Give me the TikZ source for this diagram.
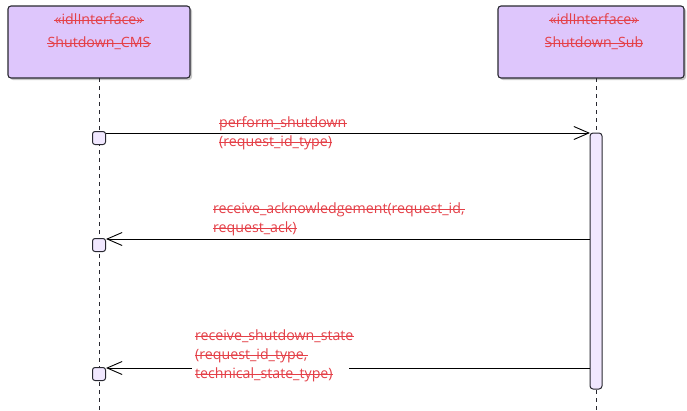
\documentclass[tikz,border=0pt]{standalone}
\usepackage{fontspec}
\setmainfont{Open Sans}
\usetikzlibrary{arrows.meta}
\definecolor{boxfill}{RGB}{222,198,252}
\definecolor{actfill}{RGB}{241,232,255}
\definecolor{redtxt}{RGB}{228,64,72}
\definecolor{edge}{RGB}{40,40,48}
\tikzset{
  classbox/.style={draw=edge, line width=1.1pt, fill=boxfill, rounded corners=3pt, minimum width=182pt, minimum height=72pt, inner sep=0pt},
  shadowbox/.style={fill=black!22, rounded corners=3pt, minimum width=182pt, minimum height=72pt, inner sep=0pt},
  lbl/.style={text=redtxt, font=\fontsize{14.2}{19}\selectfont, inner sep=0pt, text height=11.5pt, text depth=3.5pt,
    append after command={(\tikzlastnode.west) edge[draw=redtxt, line width=0.8pt] (\tikzlastnode.east)}},
  lifeline/.style={draw=edge, line width=0.9pt, dash pattern=on 4pt off 4pt},
  actsq/.style={draw=edge, line width=1pt, fill=actfill, rounded corners=2.5pt, minimum width=13pt, minimum height=13pt, inner sep=0pt},
  actbar/.style={draw=edge, line width=1pt, fill=actfill, rounded corners=3pt, minimum width=12pt, minimum height=256pt, inner sep=0pt},
  msg/.style={draw=black, line width=0.9pt, -{Straight Barb[length=15pt,width=13pt,line width=0.9pt]}},
}
\begin{document}
\begin{tikzpicture}[x=1pt,y=-1pt]
\useasboundingbox (0,0) rectangle (687,410);
% boxes
\node[shadowbox] at (101,44) {};
\node[shadowbox, minimum width=186pt] at (593,44) {};
\node[classbox] (cms) at (99,42) {};
\node[classbox, minimum width=186pt] (sub) at (591,42) {};
\node[lbl, anchor=center] (cmsst) at (99,20) {«idlInterface»};
\node[lbl, anchor=center] (cmsname) at (99,43) {Shutdown\_CMS};
\node[lbl, anchor=center] (subst) at (594,20) {«idlInterface»};
\node[lbl, anchor=center] (subname) at (594,43) {Shutdown\_Sub};
% lifelines
\coordinate (cmsend) at (99,410);
\coordinate (subtop) at (596,78);
\coordinate (subend) at (596,410);
\draw[lifeline] (99,78) -- (cmsend);
\draw[lifeline] (subtop) -- (subend);
% activations
\node[actbar] (bar) at (596,261) {};
\node[actsq] (a1) at (99,138) {};
\node[actsq] (a2) at (99,245) {};
\node[actsq] (a3) at (99,374) {};
% messages
\coordinate (m1s) at (106,133);
\coordinate (m1e) at (590,133);
\draw[msg] (m1s) -- (m1e);
\node[lbl, anchor=west] (l1a) at (219,123) {perform\_shutdown};
\node[lbl, anchor=west] (l1b) at (219,142) {(request\_id\_type)};
\coordinate (m2s) at (590,239);
\coordinate (m2e) at (106,239);
\draw[msg] (m2s) -- (m2e);
\node[lbl, anchor=west] (l2a) at (213,209) {receive\_acknowledgement(request\_id,};
\node[lbl, anchor=west] (l2b) at (213,228) {request\_ack)};
\coordinate (m3s) at (590,368);
\coordinate (m3e) at (106,368);
\draw[msg] (m3s) -- (m3e);
\fill[white] (192,326) rectangle (349,386);
\node[lbl, anchor=west] (l3a) at (195,336) {receive\_shutdown\_state};
\node[lbl, anchor=west] (l3b) at (195,355) {(request\_id\_type,};
\node[lbl, anchor=west] (l3c) at (195,374) {technical\_state\_type)};
\end{tikzpicture}
\end{document}
